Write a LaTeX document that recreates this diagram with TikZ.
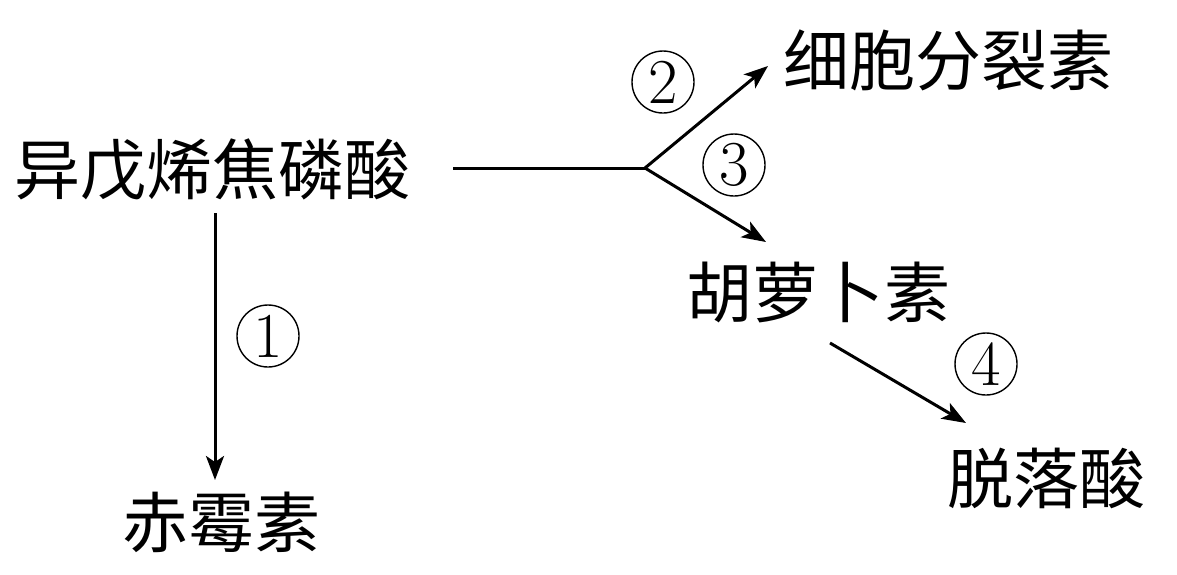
\documentclass[tikz,border=0pt]{standalone}
\usepackage{fontspec}
\newfontfamily\cjk{Noto Sans CJK SC}
\usetikzlibrary{arrows.meta}
\tikzset{
  lbl/.style={inner sep=0pt, font=\cjk\fontsize{66}{66}\selectfont},
  num/.style={circle, draw, line width=1.4pt, minimum size=62pt, inner sep=0pt, font=\fontsize{64}{64}\selectfont},
  conn/.style={line width=3pt},
  arr/.style={conn, -{Stealth[length=24pt,width=18pt,inset=6pt]}}
}
\begin{document}
\begin{tikzpicture}[x=1pt,y=-1pt]
\useasboundingbox (0,0) rectangle (1177,574);
\node[lbl] (ipp) at (212,170) {异戊烯焦磷酸};
\node[lbl] (ctk) at (948,60) {细胞分裂素};
\node[lbl] (car) at (818,292) {胡萝卜素};
\node[lbl] (aba) at (1046,478) {脱落酸};
\node[lbl] (ga) at (221,522) {赤霉素};
\node[num] (n1) at (268,336) {\raisebox{-0.05em}{1}};
\node[num] (n2) at (663,82) {\raisebox{-0.05em}{2}};
\node[num] (n3) at (734,165) {\raisebox{-0.05em}{3}};
\node[num] (n4) at (986,364) {\raisebox{-0.05em}{4}};
\coordinate (s0) at (453,168);
\coordinate (j) at (645,168);
\coordinate (t2) at (768,66);
\coordinate (t3) at (766,242);
\coordinate (s1) at (215,213);
\coordinate (t1) at (215,480);
\coordinate (s4) at (830,343);
\coordinate (t4) at (966,423);
\draw[conn] (s0) -- (j);
\draw[arr] (j) -- (t2);
\draw[arr] (j) -- (t3);
\draw[arr] (s1) -- (t1);
\draw[arr] (s4) -- (t4);
\end{tikzpicture}
\end{document}
